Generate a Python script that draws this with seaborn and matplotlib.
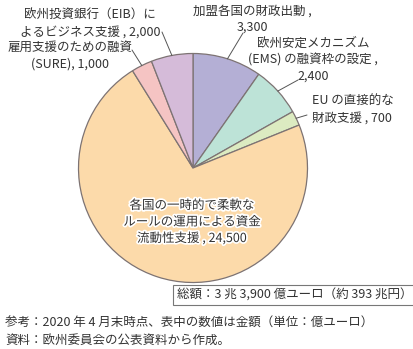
import numpy as np
import matplotlib
matplotlib.use("Agg")
import matplotlib.pyplot as plt
import matplotlib.patheffects as pe
import seaborn as sns

# Breakdown of the EU coronavirus response package (100 million euro units)
categories = [
    "加盟各国の財政出動",
    "欧州安定メカニズム（EMS）の融資枠の設定",
    "EU の直接的な財政支援",
    "各国の一時的で柔軟なルールの運用による資金流動性支援",
    "雇用支援のための融資（SURE）",
    "欧州投資銀行（EIB）によるビジネス支援",
]
values = [3300, 2400, 700, 24500, 1000, 2000]
label_texts = [
    "加盟各国の財政出動 ,\n3,300",
    "欧州安定メカニズム\n(EMS) の融資枠の設定 ,\n2,400",
    "EU の直接的な\n財政支援 , 700",
    "各国の一時的で柔軟な\nルールの運用による資金\n流動性支援 , 24,500",
    "雇用支援のための融資\n(SURE), 1,000",
    "欧州投資銀行（EIB）に\nよるビジネス支援 , 2,000",
]
colors = ["#b4afd5", "#bde3d7", "#dcebc1", "#fcdaaa", "#f5c4c3", "#d5bbd9"]
total_text = "総額：3 兆 3,900 億ユーロ（約 393 兆円）"
note_lines = [
    "参考：2020 年 4 月末時点、表中の数値は金額（単位：億ユーロ）",
    "資料：欧州委員会の公表資料から作成。",
]

sns.set_style("white")
plt.rcParams["font.family"] = ["Noto Sans CJK JP", "DejaVu Sans"]

W, H = 414, 349
fig = plt.figure(figsize=(W / 100, H / 100), dpi=100)
cx, cy, r = 193, 168, 114.5
ax = fig.add_axes([(cx - r) / W, (H - cy - r) / H, 2 * r / W, 2 * r / H])

palette = sns.color_palette(colors)
wedges, _ = ax.pie(
    values, colors=palette, startangle=90, counterclock=False,
    wedgeprops=dict(edgecolor="#7d7373", linewidth=0.9),
)
ax.set_xlim(-1, 1)
ax.set_ylim(-1, 1)
ax.set_aspect("equal")
ax.axis("off")

text_color = "#333333"
fs = 9

def px(x, y):
    return (x / W, 1 - y / H)

# Outside labels: (wedge index, text anchor px, ha, leader start px)
outside = [
    (0, (252, 19), "center", (243, 33)),
    (1, (313, 60), "center", (298, 80)),
    (2, (312, 110), "left", (307, 115)),
    (5, (90, 24), "center", (162, 32)),
    (4, (70, 56), "center", (132, 50)),
]
for idx, (tx, ty), ha, (lx, ly) in outside:
    w = wedges[idx]
    mid = np.deg2rad((w.theta1 + w.theta2) / 2)
    fig.text(*px(tx, ty), label_texts[idx], ha=ha, va="center",
             fontsize=fs, color=text_color, linespacing=1.35)
    ax.annotate("", xy=(np.cos(mid), np.sin(mid)), xycoords="data",
                xytext=px(lx, ly), textcoords="figure fraction",
                arrowprops=dict(arrowstyle="-", color="#555555", lw=0.7,
                                shrinkA=0, shrinkB=0))

# Label inside the large wedge
fig.text(*px(192, 222), label_texts[3], ha="center", va="center",
         fontsize=fs, color=text_color, linespacing=1.35,
         path_effects=[pe.withStroke(linewidth=2.5, foreground="white")])

# Total box
fig.text(*px(295, 295), total_text, ha="center", va="center",
         fontsize=fs, color=text_color,
         bbox=dict(boxstyle="square,pad=0.3", facecolor="white",
                   edgecolor="#777777", linewidth=0.8))

# Notes
fig.text(*px(5, 323), note_lines[0], ha="left", va="center",
         fontsize=fs, color=text_color)
fig.text(*px(5, 341), note_lines[1], ha="left", va="center",
         fontsize=fs, color=text_color)

fig.savefig("out.png", dpi=100, facecolor="white")
